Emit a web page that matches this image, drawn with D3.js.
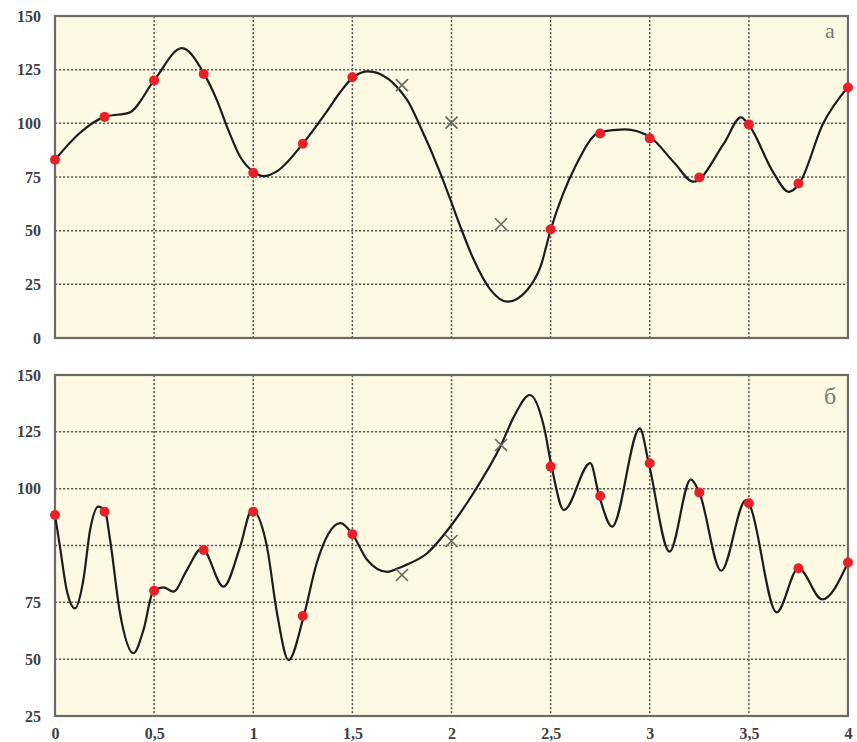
<!DOCTYPE html>
<html>
<head>
<meta charset="utf-8">
<script src="https://cdn.jsdelivr.net/npm/d3@7"></script>
<style>
  body { margin: 0; background: #fff; }
  svg text { font-family: "Liberation Serif", "DejaVu Serif", serif; }
</style>
</head>
<body>
<div id="chart"></div>
<script>
// x ticks shared by both panels
var xTicks = [0, 0.5, 1, 1.5, 2, 2.5, 3, 3.5, 4];
var xTickLabels = ["0", "0,5", "1", "1,5", "2", "2,5", "3", "3,5", "4"];

// panel a
var yTicksA = [0, 25, 50, 75, 100, 125, 150];
var yTickLabelsA = ["0", "25", "50", "75", "100", "125", "150"];
var curveXA = [0, 0.125, 0.25, 0.375, 0.5, 0.64, 0.75, 0.816, 0.874, 0.934, 1.0, 1.052, 1.125, 1.25, 1.375, 1.44, 1.507, 1.58, 1.776, 1.843, 1.944, 1.995, 2.045, 2.113, 2.197, 2.281, 2.382, 2.449, 2.5, 2.625, 2.75, 2.875, 3.0, 3.125, 3.22, 3.375, 3.46, 3.5, 3.625, 3.7, 3.75, 3.875, 4.0];
var curveYA = [83, 95.5, 103, 105, 120, 135, 123.4, 110.9, 96.9, 84.4, 77.5, 75.4, 78, 90.5, 106, 114.7, 121.7, 124.2, 110.9, 98.4, 76.7, 64.3, 51.8, 36.3, 22.4, 16.9, 22.4, 33.2, 50.3, 80, 96, 97.2, 93.7, 81.5, 72.8, 90.8, 102.8, 99.2, 76.8, 68.1, 71.3, 100, 117];
var dotXA = [0, 0.25, 0.5, 0.75, 1, 1.25, 1.5, 2.5, 2.75, 3, 3.25, 3.5, 3.75, 4];
var dotYA = [83, 103, 120, 123, 77, 90.5, 121.5, 50.6, 95.3, 93, 74.8, 99.5, 72, 116.7];
var crossXA = [1.75, 2.0, 2.25];
var crossYA = [117.8, 100.3, 53];

// panel б (axis labels as printed in the source, one grid line left unlabeled)
var yTicksB = [0, 25, 50, 75, 100, 125, 150];
var yTickLabelsB = ["25", "50", "75", "", "100", "125", "150"];
var curveXB = [0, 0.025, 0.059, 0.101, 0.143, 0.177, 0.219, 0.253, 0.278, 0.328, 0.396, 0.446, 0.497, 0.547, 0.597, 0.665, 0.741, 0.85, 0.934, 0.993, 1.069, 1.12, 1.178, 1.254, 1.32, 1.44, 1.5, 1.575, 1.675, 1.75, 1.877, 2.0, 2.11, 2.25, 2.315, 2.395, 2.466, 2.505, 2.567, 2.7, 2.745, 2.81, 2.95, 2.995, 3.1, 3.207, 3.25, 3.36, 3.485, 3.5, 3.64, 3.75, 3.87, 4.0];
var curveYB = [88.4, 74.5, 55.4, 47.3, 59.8, 81.8, 92.1, 89.9, 77.4, 45.2, 27.6, 37.8, 55.1, 56.6, 54.7, 64.2, 73.8, 56.9, 74.5, 90.6, 74.5, 45.2, 24.6, 43.7, 67.2, 84.8, 80, 68.6, 63.4, 65.7, 71.6, 84, 98, 119.2, 131.7, 141.2, 127.3, 109.7, 90.6, 111.2, 96.8, 83.3, 126.5, 111.2, 72.3, 104.1, 98.3, 63.9, 95, 93.6, 45.6, 65, 51.3, 67.5];
var dotXB = [0, 0.25, 0.5, 0.75, 1, 1.25, 1.5, 2.5, 2.75, 3, 3.25, 3.5, 3.75, 4];
var dotYB = [88.4, 89.9, 55.1, 73, 89.9, 44, 80, 109.7, 96.8, 111.2, 98.3, 93.6, 65, 67.5];
var crossXB = [1.75, 2.0, 2.25];
var crossYB = [62, 77, 119.2];

const W = 857, H = 742;
var svg = d3.select("#chart").append("svg")
  .attr("width", W)
  .attr("height", H);

function panel(opts) {
  var left = 55, right = 848;
  var x = d3.scaleLinear().domain([0, 4]).range([left, right]);
  var y = d3.scaleLinear().domain([0, 150]).range([opts.bottom, opts.top]);

  var g = svg.append("g");

  g.append("rect")
    .attr("x", left).attr("y", opts.top)
    .attr("width", right - left).attr("height", opts.bottom - opts.top)
    .style("fill", "#fdf9e2");

  // grid
  g.selectAll(".hgrid").data(opts.yTicks.slice(1, -1))
    .enter().append("line")
    .attr("x1", left).attr("x2", right)
    .attr("y1", function(d) {return y(d);})
    .attr("y2", function(d) {return y(d);})
    .style("stroke", "#5a5a55")
    .style("stroke-width", 1.5)
    .style("stroke-dasharray", "2.2,1.8");
  g.selectAll(".vgrid").data(xTicks.slice(1, -1))
    .enter().append("line")
    .attr("y1", opts.top).attr("y2", opts.bottom)
    .attr("x1", function(d) {return x(d);})
    .attr("x2", function(d) {return x(d);})
    .style("stroke", "#5a5a55")
    .style("stroke-width", 1.5)
    .style("stroke-dasharray", "2.2,1.8");

  g.append("rect")
    .attr("x", left).attr("y", opts.top)
    .attr("width", right - left).attr("height", opts.bottom - opts.top)
    .style("fill", "none")
    .style("stroke", "#6b6b66")
    .style("stroke-width", 2.2);

  // y axis labels
  var yAxis = d3.axisLeft(y)
    .tickValues(opts.yTicks)
    .tickSize(0)
    .tickPadding(14)
    .tickFormat(function(d, i) {return opts.yLabels[i];});
  var ya = g.append("g")
    .attr("transform", "translate(" + left + ",0)")
    .call(yAxis);
  ya.select(".domain").remove();
  ya.selectAll("text")
    .style("font-size", "16px")
    .style("font-weight", "bold")
    .style("fill", "#3f3f3f");

  if (opts.showX) {
    var xAxis = d3.axisBottom(x)
      .tickValues(xTicks)
      .tickSize(0)
      .tickPadding(12)
      .tickFormat(function(d, i) {return xTickLabels[i];});
    var xa = g.append("g")
      .attr("transform", "translate(0," + opts.bottom + ")")
      .call(xAxis);
    xa.select(".domain").remove();
    xa.selectAll("text")
      .style("font-size", "16px")
      .style("font-weight", "bold")
      .style("fill", "#3f3f3f");
  }

  var pts = opts.cx.map(function(v, i) {return [v, opts.cy[i]];});
  var line = d3.line()
    .x(function(d) {return x(d[0]);})
    .y(function(d) {return y(d[1]);})
    .curve(d3.curveMonotoneX);
  g.append("path")
    .datum(pts)
    .attr("d", line)
    .style("fill", "none")
    .style("stroke", "#1c1c1c")
    .style("stroke-width", 2.2);

  // crosses
  var s = 6;
  opts.xx.forEach(function(v, i) {
    var px = x(v), py = y(opts.xy[i]);
    g.append("path")
      .attr("d", "M" + (px - s) + "," + (py - s) + "L" + (px + s) + "," + (py + s) +
                 "M" + (px - s) + "," + (py + s) + "L" + (px + s) + "," + (py - s))
      .style("stroke", "#666660")
      .style("stroke-width", 1.6)
      .style("fill", "none");
  });

  g.selectAll(".dot").data(opts.dx)
    .enter().append("circle")
    .attr("cx", function(d) {return x(d);})
    .attr("cy", function(d, i) {return y(opts.dy[i]);})
    .attr("r", 5)
    .style("fill", "#e8202a");

  g.append("text")
    .attr("x", right - 18)
    .attr("y", opts.top + opts.letterDy)
    .attr("text-anchor", "middle")
    .style("font-size", opts.letterSize)
    .style("fill", "#777")
    .text(opts.letter);
}

panel({top: 16, bottom: 338, yTicks: yTicksA, yLabels: yTickLabelsA,
       cx: curveXA, cy: curveYA, dx: dotXA, dy: dotYA, xx: crossXA, xy: crossYA,
       letter: "а", letterDy: 22, letterSize: "22px", showX: false});
panel({top: 375, bottom: 716, yTicks: yTicksB, yLabels: yTickLabelsB,
       cx: curveXB, cy: curveYB, dx: dotXB, dy: dotYB, xx: crossXB, xy: crossYB,
       letter: "б", letterDy: 29, letterSize: "24px", showX: true});
</script>
</body>
</html>
